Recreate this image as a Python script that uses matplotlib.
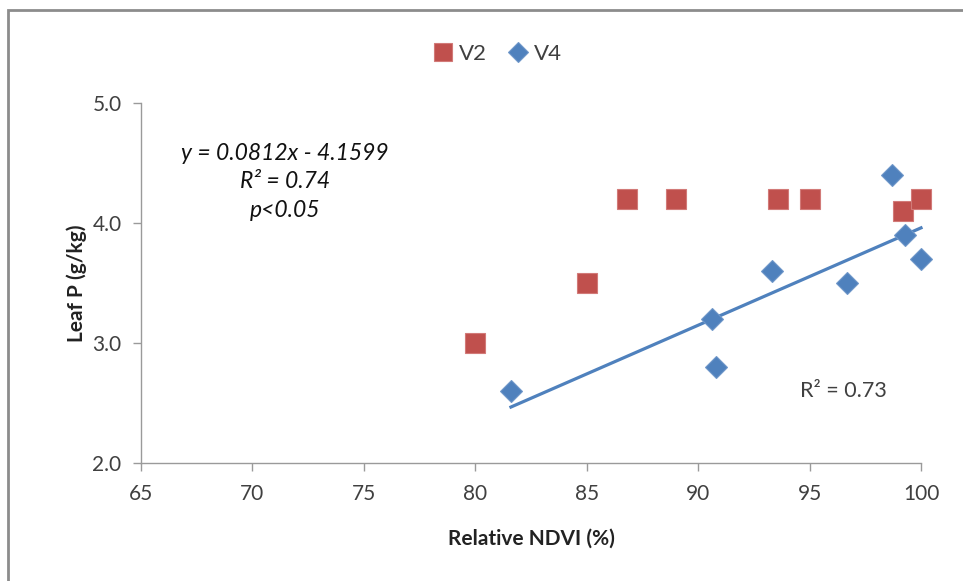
import numpy as np
import matplotlib.pyplot as plt
from matplotlib.patches import Rectangle

plt.rcParams['font.family'] = ['Lato', 'DejaVu Sans']

# V2 (red squares)
v2_x = [80.0, 85.0, 86.8, 89.0, 93.6, 95.0, 99.2, 100.0]
v2_y = [3.0, 3.5, 4.2, 4.2, 4.2, 4.2, 4.1, 4.2]

# V4 (blue diamonds)
v4_x = [81.6, 90.6, 90.8, 93.3, 96.7, 98.7, 99.3, 100.0]
v4_y = [2.6, 3.2, 2.8, 3.6, 3.5, 4.4, 3.9, 3.7]

x_ticks = [65, 70, 75, 80, 85, 90, 95, 100]
y_ticks = [2.0, 3.0, 4.0, 5.0]

red = '#C0504D'
blue = '#4F81BD'
txt = '#404040'

fig = plt.figure(figsize=(9.63, 5.81), dpi=100)
ax = fig.add_axes([0.1464, 0.2031, 0.81, 0.6196])

# outer frame
fig.patches.append(Rectangle((8 / 963, -0.1), 1.2, 1 - 10 / 581 + 0.1,
                             transform=fig.transFigure, fill=False,
                             edgecolor='#8c8c8c', linewidth=2))

ax.plot(v2_x, v2_y, 's', color=red, markersize=14, markeredgecolor='#d27a78',
        markeredgewidth=0.8, label='V2', zorder=3, clip_on=False)
ax.plot(v4_x, v4_y, 'D', color=blue, markersize=11, markeredgecolor='#6f97c9',
        markeredgewidth=0.8, label='V4', zorder=3, clip_on=False)

# linear trendline for V4
k, b = np.polyfit(v4_x, v4_y, 1)
xs = np.array([min(v4_x), max(v4_x)])
ax.plot(xs, k * xs + b, color=blue, linewidth=2.3, zorder=2, clip_on=False)

ax.set_xlim(65, 100)
ax.set_ylim(2.0, 5.0)
ax.set_xticks(x_ticks)
ax.set_yticks(y_ticks)
ax.set_yticklabels(['%.1f' % v for v in y_ticks])

for s in ['top', 'right']:
    ax.spines[s].set_visible(False)
for s in ['left', 'bottom']:
    ax.spines[s].set_color('#9a9a9a')
    ax.spines[s].set_linewidth(1)
ax.tick_params(axis='both', colors='#9a9a9a', labelcolor=txt, labelsize=15,
               length=6, width=1)
ax.tick_params(axis='x', pad=9)
ax.tick_params(axis='y', pad=8)

ax.set_xlabel('Relative NDVI (%)', fontsize=15, fontweight='bold', color='#222222', labelpad=18)
ax.set_ylabel('Leaf P (g/kg)', fontsize=15, fontweight='bold', color='#222222', labelpad=4)

ax.text(0.185, 0.89, 'y = 0.0812x - 4.1599\nR² = 0.74\np<0.05', transform=ax.transAxes,
        ha='center', va='top', fontsize=16.5, style='italic', color='#111111',
        linespacing=1.45)
ax.text(96.5, 2.6, 'R² = 0.73', ha='center', va='center', fontsize=15.5, color=txt)

ax.legend(loc='upper center', bbox_to_anchor=(0.455, 1.22), ncol=2, frameon=False,
          fontsize=16, handletextpad=0.1, columnspacing=0.8, markerscale=0.9,
          labelcolor=txt, handlelength=1.2)

fig.savefig('out.png', dpi=100)
